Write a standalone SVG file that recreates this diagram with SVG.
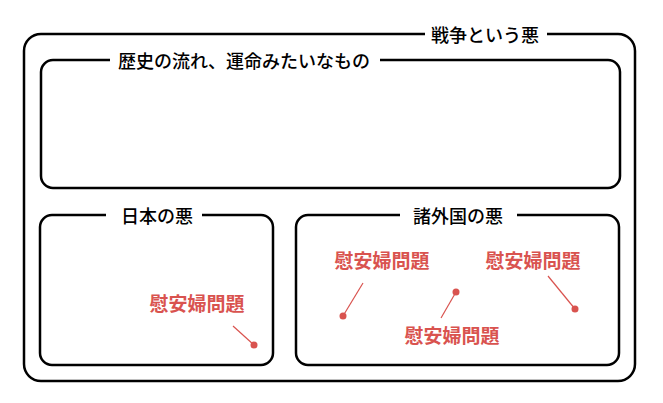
<svg xmlns="http://www.w3.org/2000/svg" width="663" height="403" viewBox="0 0 663 403">
<style>
.box{fill:none;stroke:#000;stroke-width:2.5}
.gap{fill:#fff;stroke:none}
.title{font-family:"Noto Sans CJK JP","Noto Sans",sans-serif;font-size:18px;font-weight:500;fill:#000;text-anchor:middle;dominant-baseline:central}
.lbl{font-family:"Noto Sans CJK JP","Noto Sans",sans-serif;font-size:19px;font-weight:bold;fill:#d9534f;text-anchor:middle;dominant-baseline:central}
.con{stroke:#d9534f;stroke-width:1.2;fill:none}
.dot{fill:#d9534f}
</style>
<rect width="663" height="403" fill="#fff"/>
<g id="war">
<rect class="box" x="24" y="34" width="611" height="347" rx="17"/>
<rect class="gap" x="425" y="24" width="122" height="20"/>
<text class="title" x="485" y="34">戦争という悪</text>
</g>
<g id="history">
<rect class="box" x="41" y="60" width="579" height="128" rx="12"/>
<rect class="gap" x="110" y="50" width="270" height="20"/>
<text class="title" x="244" y="60">歴史の流れ、運命みたいなもの</text>
</g>
<g id="japan">
<rect class="box" x="40" y="215" width="233" height="150" rx="12"/>
<rect class="gap" x="106" y="205" width="96" height="20"/>
<text class="title" x="157" y="215">日本の悪</text>
</g>
<g id="foreign">
<rect class="box" x="296" y="215" width="323" height="150" rx="12"/>
<rect class="gap" x="400" y="205" width="117" height="20"/>
<text class="title" x="458" y="215">諸外国の悪</text>
</g>
<g id="label-jp"><text class="lbl" x="197" y="302">慰安婦問題</text></g>
<g id="label-f1"><text class="lbl" x="382" y="259">慰安婦問題</text></g>
<g id="label-f2"><text class="lbl" x="533" y="259">慰安婦問題</text></g>
<g id="label-f3"><text class="lbl" x="452" y="334">慰安婦問題</text></g>
<g id="connectors">
<line class="con" x1="233" y1="326" x2="254" y2="345"/>
<circle class="dot" cx="254" cy="345" r="3.5"/>
<line class="con" x1="363" y1="283" x2="343" y2="316"/>
<circle class="dot" cx="343" cy="316" r="3.5"/>
<line class="con" x1="441" y1="318" x2="456" y2="292"/>
<circle class="dot" cx="456" cy="292" r="3.5"/>
<line class="con" x1="548" y1="276" x2="575" y2="309"/>
<circle class="dot" cx="575" cy="309" r="3.5"/>
</g>
</svg>
